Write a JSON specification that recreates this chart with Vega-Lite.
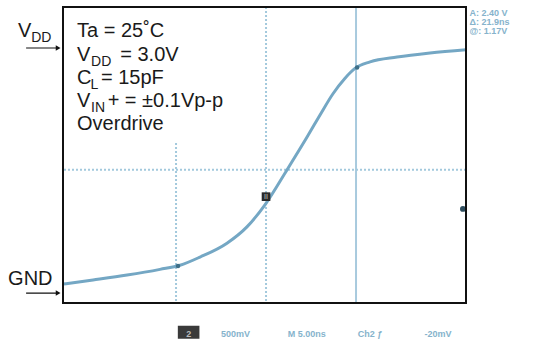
{
  "$schema": "https://vega.github.io/schema/vega-lite/v6.json",
  "width": 403,
  "height": 296,
  "autosize": "none",
  "padding": {"left": 63, "top": 7, "right": 70, "bottom": 40},
  "background": "white",
  "config": {"view": {"stroke": null}, "text": {"font": "Liberation Sans"}},
  "datasets": {
    "curve": [
      {"t": -11.28, "v": 0.11}, {"t": -9.61, "v": 0.16}, {"t": -7.72, "v": 0.22},
      {"t": -5.89, "v": 0.29}, {"t": -4.78, "v": 0.34}, {"t": -3.67, "v": 0.44},
      {"t": -2.17, "v": 0.61}, {"t": -1.06, "v": 0.81}, {"t": -0.06, "v": 1.08},
      {"t": 1.17, "v": 1.51}, {"t": 2.28, "v": 1.91}, {"t": 3.0, "v": 2.18},
      {"t": 3.72, "v": 2.44}, {"t": 4.39, "v": 2.63}, {"t": 4.94, "v": 2.75},
      {"t": 5.78, "v": 2.83}, {"t": 7.28, "v": 2.89}, {"t": 9.11, "v": 2.94},
      {"t": 11.11, "v": 2.98}
    ],
    "main": [
      {"label": "Ta = 25˚C", "t": -10.5, "v": 3.135},
      {"label": "V", "t": -10.5, "v": 2.841},
      {"label": "= 3.0V", "t": -8.1, "v": 2.841},
      {"label": "C", "t": -10.5, "v": 2.559},
      {"label": "= 15pF", "t": -9.17, "v": 2.559},
      {"label": "V", "t": -10.5, "v": 2.277},
      {"label": "+ = ±0.1Vp-p", "t": -8.8, "v": 2.277},
      {"label": "Overdrive", "t": -10.5, "v": 1.996},
      {"label": "V", "t": -13.78, "v": 3.135},
      {"label": "GND", "t": -14.33, "v": 0.098}
    ],
    "sub": [
      {"label": "DD", "t": -9.72, "v": 2.779},
      {"label": "L", "t": -9.75, "v": 2.498},
      {"label": "IN", "t": -9.72, "v": 2.216},
      {"label": "DD", "t": -13.05, "v": 3.073}
    ],
    "scope": [
      {"label": "A: 2.40 V", "t": 11.3, "v": 3.39},
      {"label": "Δ: 21.9ns", "t": 11.3, "v": 3.28},
      {"label": "@: 1.17V", "t": 11.3, "v": 3.17}
    ],
    "bottom": [
      {"label": "500mV", "t": -2.5, "v": -0.54},
      {"label": "M 5.00ns", "t": 1.2, "v": -0.54},
      {"label": "Ch2 ƒ", "t": 5.1, "v": -0.54},
      {"label": "-20mV", "t": 8.8, "v": -0.54}
    ],
    "arrows": [{"y": 3.0}, {"y": 0.0}],
    "dots": [{"t": -4.89, "v": 0.33}, {"t": 5.06, "v": 2.76}],
    "one": [{}]
  },
  "layer": [
    {
      "mark": {"type": "rule", "color": "#a3c9dd", "strokeWidth": 2, "strokeDash": [2, 2]},
      "data": {"values": [{"t": -5}, {"t": 0}]},
      "encoding": {
        "x": {"field": "t", "type": "quantitative", "scale": {"domain": [-11.28, 11.11], "nice": false, "zero": false}, "axis": null}
      }
    },
    {
      "data": {"name": "one"},
      "mark": {"type": "rule", "color": "#a8cade", "strokeWidth": 2},
      "encoding": {
        "x": {"datum": 5, "type": "quantitative", "scale": {"domain": [-11.28, 11.11], "nice": false, "zero": false}, "axis": null}
      }
    },
    {
      "data": {"name": "one"},
      "mark": {"type": "rule", "color": "#a3c9dd", "strokeWidth": 2, "strokeDash": [2, 2]},
      "encoding": {
        "y": {"datum": 1.51, "type": "quantitative", "scale": {"domain": [-0.122, 3.502], "nice": false, "zero": false}, "axis": null}
      }
    },
    {
      "data": {"name": "one"},
      "mark": {"type": "rect", "color": "white"},
      "encoding": {
        "x": {"datum": -11.28, "type": "quantitative", "scale": {"domain": [-11.28, 11.11], "nice": false, "zero": false}, "axis": null},
        "x2": {"datum": -1.72},
        "y": {"datum": 3.502, "type": "quantitative", "scale": {"domain": [-0.122, 3.502], "nice": false, "zero": false}, "axis": null},
        "y2": {"datum": 1.84}
      }
    },
    {
      "data": {"name": "curve"},
      "mark": {"type": "line", "color": "#74a7c4", "strokeWidth": 3, "interpolate": "monotone"},
      "encoding": {
        "x": {"field": "t", "type": "quantitative", "scale": {"domain": [-11.28, 11.11], "nice": false, "zero": false}, "axis": null},
        "y": {"field": "v", "type": "quantitative", "scale": {"domain": [-0.122, 3.502], "nice": false, "zero": false}, "axis": null}
      }
    },
    {
      "data": {"name": "dots"},
      "mark": {"type": "point", "filled": true, "color": "#3f6f88", "size": 20, "opacity": 1},
      "encoding": {
        "x": {"field": "t", "type": "quantitative", "scale": {"domain": [-11.28, 11.11], "nice": false, "zero": false}, "axis": null},
        "y": {"field": "v", "type": "quantitative", "scale": {"domain": [-0.122, 3.502], "nice": false, "zero": false}, "axis": null}
      }
    },
    {
      "data": {"name": "one"},
      "mark": {"type": "point", "shape": "square", "filled": true, "color": "#2a2a2a", "size": 75, "opacity": 1},
      "encoding": {
        "x": {"datum": 0, "type": "quantitative", "scale": {"domain": [-11.28, 11.11], "nice": false, "zero": false}, "axis": null},
        "y": {"datum": 1.18, "type": "quantitative", "scale": {"domain": [-0.122, 3.502], "nice": false, "zero": false}, "axis": null}
      }
    },
    {
      "data": {"name": "one"},
      "mark": {"type": "text", "text": "II", "color": "#9a9a9a", "fontSize": 7, "fontWeight": "bold", "baseline": "middle"},
      "encoding": {
        "x": {"datum": 0, "type": "quantitative", "scale": {"domain": [-11.28, 11.11], "nice": false, "zero": false}, "axis": null},
        "y": {"datum": 1.18, "type": "quantitative", "scale": {"domain": [-0.122, 3.502], "nice": false, "zero": false}, "axis": null}
      }
    },
    {
      "data": {"name": "one"},
      "mark": {"type": "point", "shape": "circle", "filled": true, "color": "#2e4d5e", "size": 35, "opacity": 1},
      "encoding": {
        "x": {"datum": 10.94, "type": "quantitative", "scale": {"domain": [-11.28, 11.11], "nice": false, "zero": false}, "axis": null},
        "y": {"datum": 1.03, "type": "quantitative", "scale": {"domain": [-0.122, 3.502], "nice": false, "zero": false}, "axis": null}
      }
    },
    {
      "data": {"name": "one"},
      "mark": {"type": "rect", "fill": null, "stroke": "#111111", "strokeWidth": 2},
      "encoding": {
        "x": {"datum": -11.28, "type": "quantitative", "scale": {"domain": [-11.28, 11.11], "nice": false, "zero": false}, "axis": null},
        "x2": {"datum": 11.11},
        "y": {"datum": 3.502, "type": "quantitative", "scale": {"domain": [-0.122, 3.502], "nice": false, "zero": false}, "axis": null},
        "y2": {"datum": -0.122}
      }
    },
    {
      "data": {"name": "main"},
      "mark": {"type": "text", "align": "left", "baseline": "alphabetic", "fontSize": 20, "color": "#1a1a1a"},
      "encoding": {
        "x": {"field": "t", "type": "quantitative", "scale": {"domain": [-11.28, 11.11], "nice": false, "zero": false}, "axis": null},
        "y": {"field": "v", "type": "quantitative", "scale": {"domain": [-0.122, 3.502], "nice": false, "zero": false}, "axis": null},
        "text": {"field": "label"}
      }
    },
    {
      "data": {"name": "sub"},
      "mark": {"type": "text", "align": "left", "baseline": "alphabetic", "fontSize": 14, "color": "#1a1a1a"},
      "encoding": {
        "x": {"field": "t", "type": "quantitative", "scale": {"domain": [-11.28, 11.11], "nice": false, "zero": false}, "axis": null},
        "y": {"field": "v", "type": "quantitative", "scale": {"domain": [-0.122, 3.502], "nice": false, "zero": false}, "axis": null},
        "text": {"field": "label"}
      }
    },
    {
      "data": {"name": "scope"},
      "mark": {"type": "text", "align": "left", "baseline": "alphabetic", "fontSize": 9, "fontWeight": "bold", "color": "#86b3cc"},
      "encoding": {
        "x": {"field": "t", "type": "quantitative", "scale": {"domain": [-11.28, 11.11], "nice": false, "zero": false}, "axis": null},
        "y": {"field": "v", "type": "quantitative", "scale": {"domain": [-0.122, 3.502], "nice": false, "zero": false}, "axis": null},
        "text": {"field": "label"}
      }
    },
    {
      "data": {"name": "bottom"},
      "mark": {"type": "text", "align": "left", "baseline": "alphabetic", "fontSize": 9, "fontWeight": "bold", "color": "#86b3cc"},
      "encoding": {
        "x": {"field": "t", "type": "quantitative", "scale": {"domain": [-11.28, 11.11], "nice": false, "zero": false}, "axis": null},
        "y": {"field": "v", "type": "quantitative", "scale": {"domain": [-0.122, 3.502], "nice": false, "zero": false}, "axis": null},
        "text": {"field": "label"}
      }
    },
    {
      "data": {"name": "one"},
      "mark": {"type": "rect", "color": "#3a3a3a"},
      "encoding": {
        "x": {"datum": -4.9, "type": "quantitative", "scale": {"domain": [-11.28, 11.11], "nice": false, "zero": false}, "axis": null},
        "x2": {"datum": -3.7},
        "y": {"datum": -0.4, "type": "quantitative", "scale": {"domain": [-0.122, 3.502], "nice": false, "zero": false}, "axis": null},
        "y2": {"datum": -0.56}
      }
    },
    {
      "data": {"name": "one"},
      "mark": {"type": "text", "text": "2", "align": "center", "baseline": "alphabetic", "fontSize": 9, "fontWeight": "bold", "color": "#bbbbbb"},
      "encoding": {
        "x": {"datum": -4.3, "type": "quantitative", "scale": {"domain": [-11.28, 11.11], "nice": false, "zero": false}, "axis": null},
        "y": {"datum": -0.54, "type": "quantitative", "scale": {"domain": [-0.122, 3.502], "nice": false, "zero": false}, "axis": null}
      }
    },
    {
      "data": {"name": "arrows"},
      "mark": {"type": "rule", "color": "#111111", "strokeWidth": 1.2},
      "encoding": {
        "x": {"datum": -13.33, "type": "quantitative", "scale": {"domain": [-11.28, 11.11], "nice": false, "zero": false}, "axis": null},
        "x2": {"datum": -11.5},
        "y": {"field": "y", "type": "quantitative", "scale": {"domain": [-0.122, 3.502], "nice": false, "zero": false}, "axis": null}
      }
    },
    {
      "data": {"name": "arrows"},
      "mark": {"type": "point", "shape": "triangle-right", "filled": true, "color": "#111111", "size": 30, "opacity": 1},
      "encoding": {
        "x": {"datum": -11.55, "type": "quantitative", "scale": {"domain": [-11.28, 11.11], "nice": false, "zero": false}, "axis": null},
        "y": {"field": "y", "type": "quantitative", "scale": {"domain": [-0.122, 3.502], "nice": false, "zero": false}, "axis": null}
      }
    }
  ]
}
